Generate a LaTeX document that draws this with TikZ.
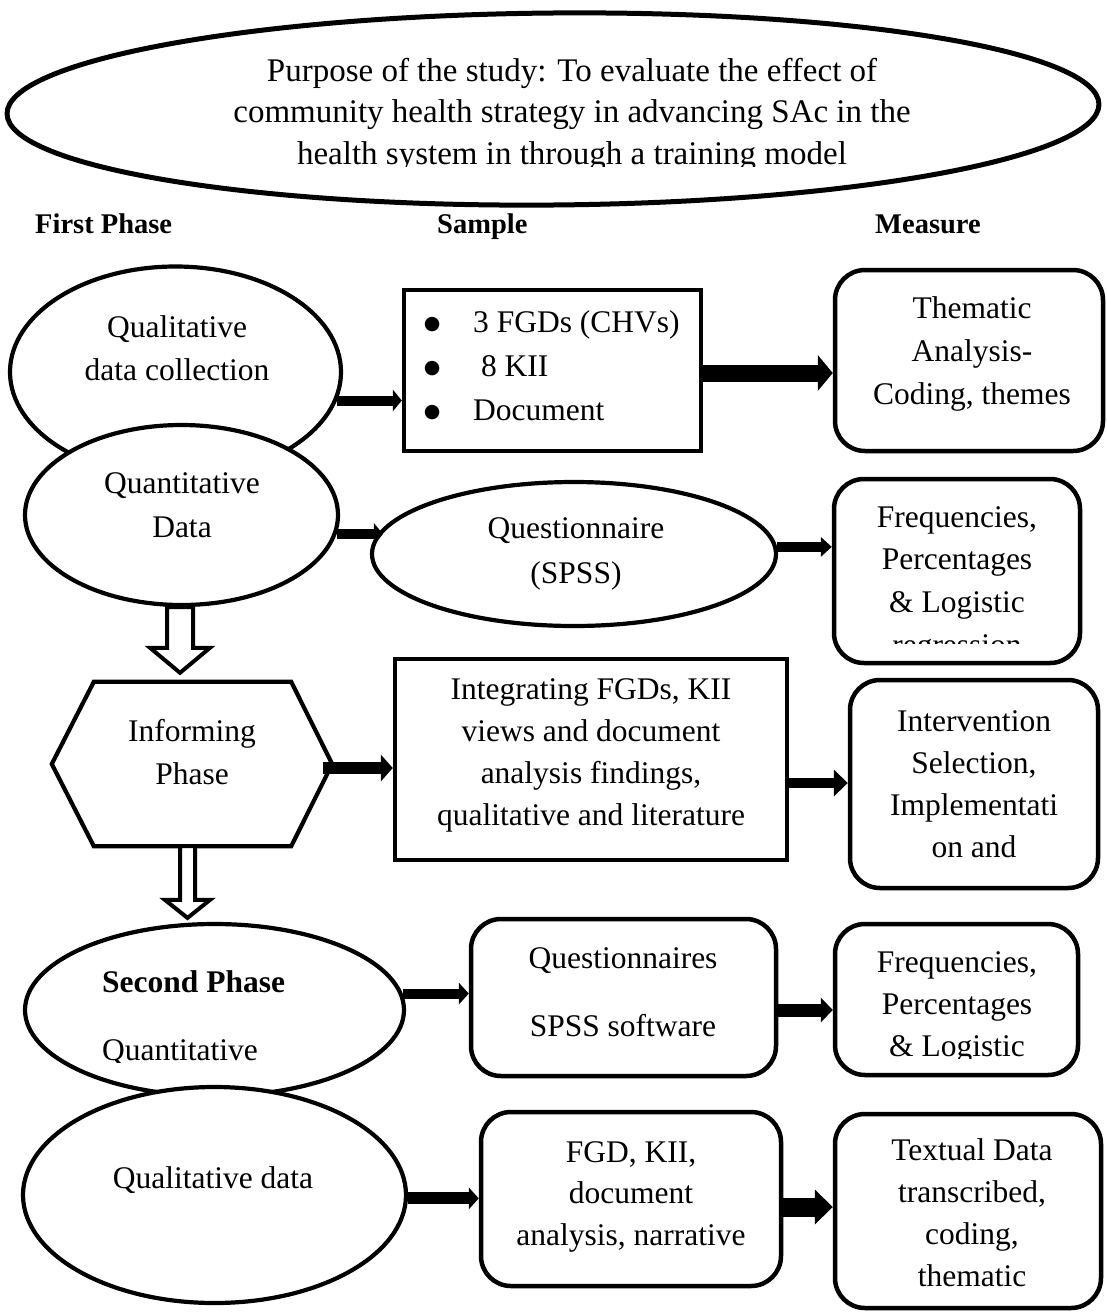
\documentclass[tikz,border=0pt]{standalone}
\usepackage{fontspec}
\setmainfont{Liberation Serif}
\newfontfamily\dejavu{DejaVu Sans}
\usetikzlibrary{arrows.meta,calc,shapes.geometric}
\newcommand\fsz[2]{\fontsize{#1}{#2}\selectfont}
\newcommand\stack[1]{\begin{tabular}[t]{@{}c@{}}#1\end{tabular}}
\newcommand\bigbul{\raisebox{3pt}{\dejavu\fontsize{19}{19}\selectfont ●}}
\tikzset{
  shp/.style={draw, line width=4.2pt, inner sep=0pt},
  ell/.style={shp, ellipse, fill=white},
  rbox/.style={shp, rectangle, rounded corners=30pt, line width=4.5pt, fill=white},
  sqbox/.style={shp, rectangle, line width=4.5pt, fill=white},
  txt/.style={anchor=base, inner sep=0pt, font=\fsz{31.5}{43}},
  hdr/.style={anchor=base west, inner sep=0pt, font=\fsz{28.5}{34}\bfseries},
  blk/.style n args={3}{line width=#1, -{Triangle[length=#3, width=#2, line width=0pt]}},
  hollow/.style={draw, fill=white, line width=4pt, line join=miter},
}
\begin{document}
\begin{tikzpicture}[x=1pt,y=-1pt]
\useasboundingbox[fill=white] (0,0) rectangle (1107,1315);

% ---- purpose ----
\node[ell, line width=5pt, minimum width=1092pt, minimum height=192pt, rotate=0.5] (pur) at (553,109) {};
\begin{scope}
\clip (0,0) rectangle (1107,166);
\node[txt, font=\fsz{33}{41.5}] (purt) at (572,81) {\stack{Purpose of the study: To evaluate the effect of\\community health strategy in advancing SAc in the\\health system in through a training model}};
\end{scope}

% ---- headers ----
\node[hdr] (h1) at (35,233) {First Phase};
\node[hdr] (h2) at (437,233) {Sample};
\node[hdr] (h3) at (875,233) {Measure};

% ---- row 1 ----
\node[ell, minimum width=331pt, minimum height=211pt] (qcol) at (175.5,372) {};
\node[txt] (qcolt) at (177,337) {\stack{Qualitative\\data collection}};
\node[ell, minimum width=313pt, minimum height=180pt] (quant) at (181.5,515) {};
\node[txt, font=\fsz{31.5}{44}] (quantt) at (182,493) {\stack{Quantitative\\Data}};
\node[sqbox, minimum width=297pt, minimum height=161pt] (sbox) at (552.5,370.5) {};
\node[txt, anchor=base west, font=\fsz{31.5}{44}] (sboxt) at (423.7,332)
  {\begin{tabular}[t]{@{}l@{\hspace{32.7pt}}l@{}}\bigbul & 3 FGDs (CHVs)\\ \bigbul & \ 8 KII\\ \bigbul & Document\end{tabular}};
\node[rbox, minimum width=268pt, minimum height=181pt] (thm) at (969,360.5) {};
\node[txt] (thmt) at (972,318) {\stack{Thematic\\Analysis-\\Coding, themes}};

% ---- row 2 ----
\node[ell, minimum width=404pt, minimum height=144pt] (qsn) at (574,554) {};
\node[txt, font=\fsz{31.5}{45}] (qsnt) at (576,538) {\stack{Questionnaire\\(SPSS)}};
\node[rbox, minimum width=246pt, minimum height=184pt] (freq) at (957,571) {};
\begin{scope}
\clip (820,470) rectangle (1090,643);
\node[txt, font=\fsz{31.5}{42.7}] (freqt) at (957,527) {\stack{Frequencies,\\Percentages\\\& Logistic\\regression}};
\end{scope}

% ---- informing phase ----
\node[minimum width=280pt, minimum height=164pt, inner sep=0pt] (inf) at (192,764) {};
\draw[shp] (inf.west) -- ($(inf.north west)+(42,0)$) -- ($(inf.north east)+(-41,0)$) -- (inf.east)
  -- ($(inf.south east)+(-41,0)$) -- ($(inf.south west)+(42,0)$) -- cycle;
\node[txt] (inft) at (192,741) {\stack{Informing\\Phase}};
\node[sqbox, minimum width=392pt, minimum height=201pt] (integ) at (591,759.5) {};
\node[txt, font=\fsz{31.5}{42}] (integt) at (591,699) {\stack{Integrating FGDs, KII\\views and document\\analysis findings,\\qualitative and literature}};
\node[rbox, minimum width=248pt, minimum height=208pt] (intv) at (974,784) {};
\node[txt, font=\fsz{31.5}{42}] (intvt) at (974,731) {\stack{Intervention\\Selection,\\Implementati\\on and}};

% ---- second phase ----
\node[ell, minimum width=379pt, minimum height=172pt] (sp) at (214.5,1010) {};
\node[txt, anchor=base west, font=\fsz{31.5}{43}\bfseries] (spt) at (102,992) {Second Phase};
\begin{scope}
\clip (90,1030) rectangle (410,1062);
\node[txt, anchor=base west] (spq) at (102,1060) {Quantitative};
\end{scope}
\node[rbox, minimum width=305pt, minimum height=157pt] (qs2) at (623.5,997.5) {};
\node[txt, font=\fsz{31.5}{68}] (qs2t) at (623,968) {\stack{Questionnaires\\SPSS software}};
\node[rbox, minimum width=243pt, minimum height=151pt] (fr2) at (956.5,999.5) {};
\begin{scope}
\clip (820,915) rectangle (1090,1058);
\node[txt, font=\fsz{31.5}{42}] (fr2t) at (957,972) {\stack{Frequencies,\\Percentages\\\& Logistic}};
\end{scope}

% ---- qualitative data ----
\node[ell, minimum width=383pt, minimum height=216pt] (qd) at (214.5,1195) {};
\node[txt] (qdt) at (213,1188) {Qualitative data};
\node[rbox, minimum width=300pt, minimum height=174pt] (fgd) at (631,1199) {};
\node[txt, font=\fsz{31.5}{41.5}] (fgdt) at (631,1162) {\stack{FGD, KII,\\document\\analysis, narrative}};
\node[rbox, minimum width=266pt, minimum height=194pt] (txt) at (968,1211) {};
\node[txt, font=\fsz{31.5}{42.3}] (txtt) at (972,1160) {\stack{Textual Data\\transcribed,\\coding,\\thematic}};

% ---- block arrows ----
\draw[blk={10pt}{22pt}{9pt}] (qcol.-10) -- (qcol.-10 -| sbox.west);
\coordinate (s2) at ($(sbox.east)+(-3,2.5)$);
\draw[blk={17pt}{36pt}{15pt}] (s2) -- (s2 -| thm.west);
\coordinate (e3) at ($(qsn.west)+(13,0)$);
\draw[blk={10pt}{22pt}{9pt}] (quant.-7.5) -- (quant.-7.5 -| e3);
\draw[blk={10pt}{20pt}{11pt}] (qsn.2.6) -- (qsn.2.6 -| freq.west);
\coordinate (s5) at ($(inf.east)+(-9,4)$);
\draw[blk={12pt}{27pt}{12pt}] (s5) -- (s5 -| integ.west);
\coordinate (s6) at ($(integ.east)+(-2,23.5)$);
\draw[blk={10pt}{27pt}{14pt}] (s6) -- (s6 -| intv.west);
\draw[blk={10pt}{22pt}{10pt}] (sp.5.2) -- (sp.5.2 -| qs2.west);
\coordinate (s8) at ($(qs2.east)+(-2,12.5)$);
\draw[blk={13pt}{25pt}{12pt}] (s8) -- (s8 -| fr2.west);
\draw[blk={12pt}{22pt}{10pt}] (qd.-1.5) -- (qd.-1.5 -| fgd.west);
\coordinate (s10) at ($(fgd.east)+(-2,8)$);
\draw[blk={19pt}{35pt}{18pt}] (s10) -- (s10 -| txt.west);

% ---- hollow arrows ----
\draw[hollow] let \p1=(quant.south), \p2=(inf.north) in
  (\x1-14.5pt,\y1) -- (\x1-14.5pt,\y2+34pt) -- (\x1-31.5pt,\y2+34pt) -- (\x1-1.5pt,\y2+9pt)
  -- (\x1+28.5pt,\y2+34pt) -- (\x1+11.5pt,\y2+34pt) -- (\x1+11.5pt,\y1) -- cycle;
\draw[hollow] let \p1=(inf.south), \p2=(sp.north) in
  (\x1-12pt,\y1) -- (\x1-12pt,\y2+22pt) -- (\x1-27pt,\y2+22pt) -- (\x1-4.5pt,\y2+4pt)
  -- (\x1+18pt,\y2+22pt) -- (\x1+3pt,\y2+22pt) -- (\x1+3pt,\y1) -- cycle;
\end{tikzpicture}
\end{document}
